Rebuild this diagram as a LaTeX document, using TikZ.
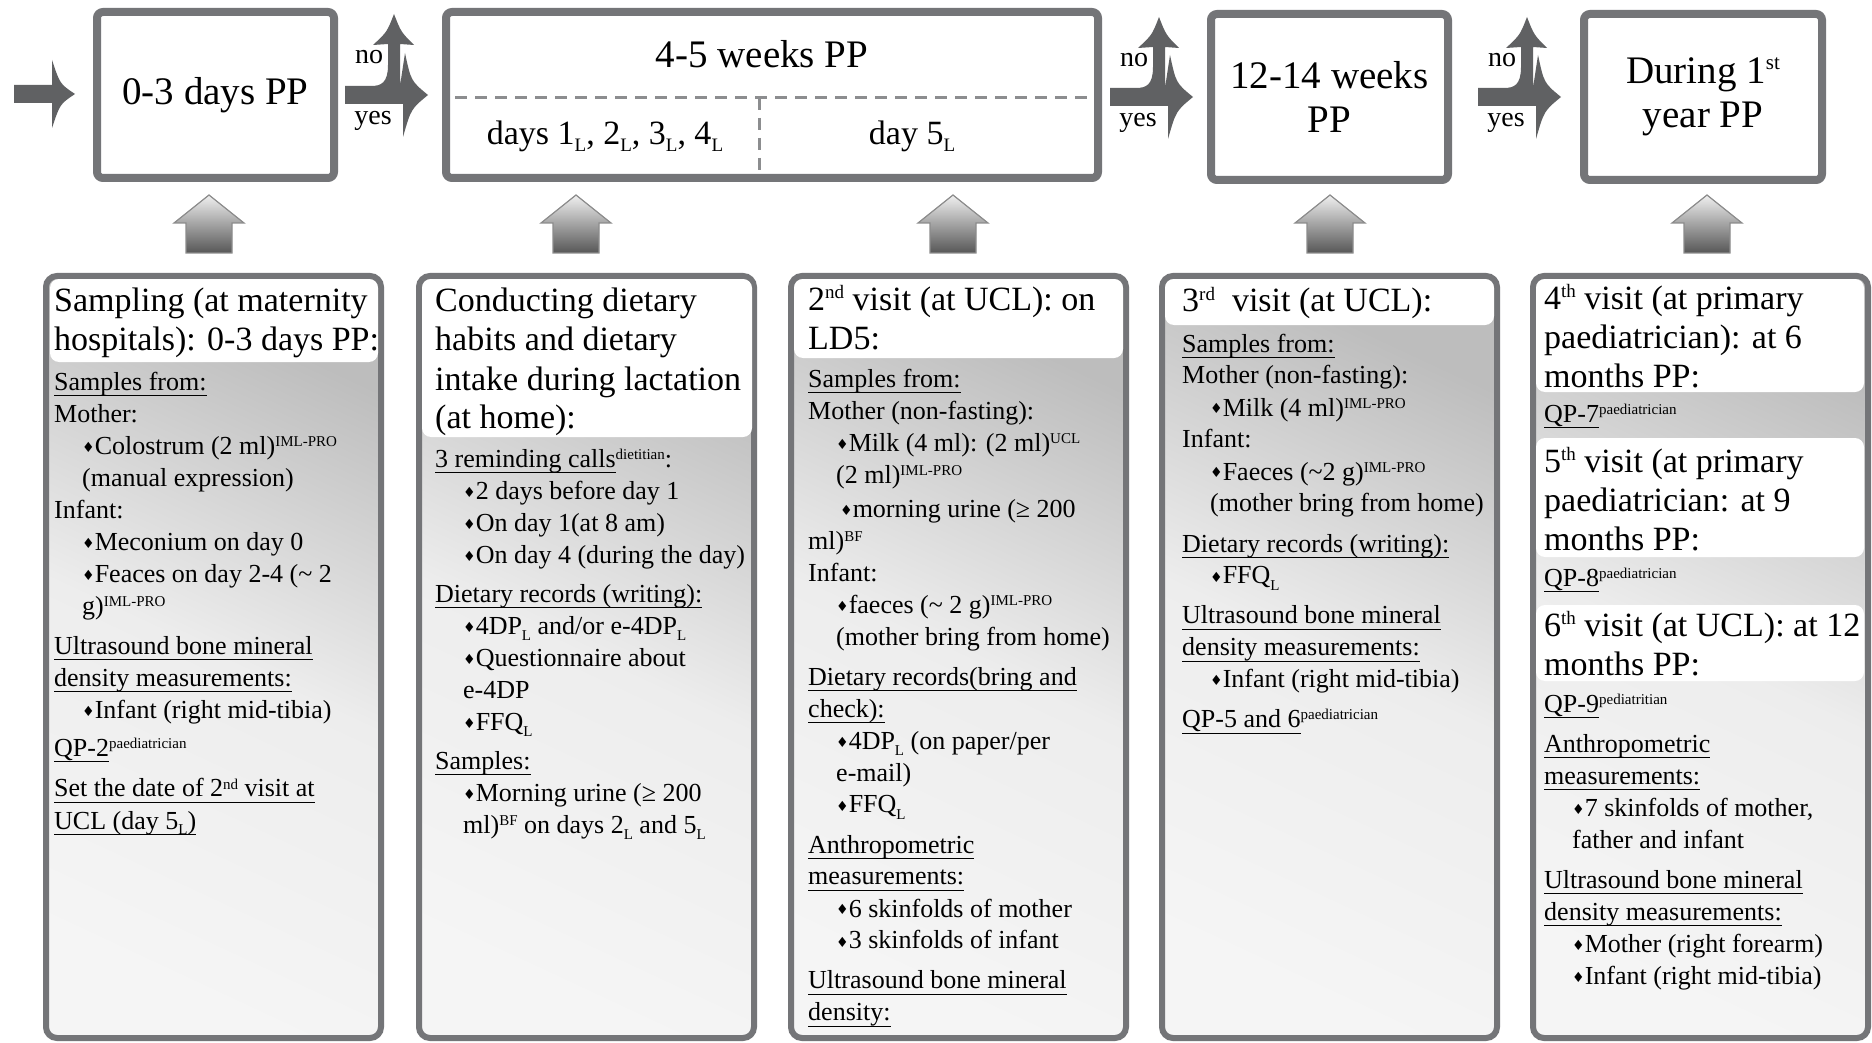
\documentclass[tikz,border=0pt]{standalone}
\usepackage{fontspec}
\setmainfont{Liberation Serif}
\newfontfamily\symf{DejaVu Sans}
\definecolor{bordergray}{RGB}{116,117,120}
\definecolor{arrowgray}{RGB}{96,97,99}
\definecolor{dashgray}{RGB}{140,141,143}
\newcommand\uln[1]{\leavevmode\setbox0\hbox{#1}\rlap{\rule[-6pt]{\wd0}{1.3pt}}\box0}
\newcommand\bul{\raisebox{2pt}{\symf\fontsize{14}{14}\selectfont ♦}}
\newcommand\sps[1]{\raisebox{8pt}{\fontsize{15}{15}\selectfont #1}}
\newcommand\hsps[1]{\raisebox{12pt}{\fontsize{19}{19}\selectfont #1}}
\newcommand\tsps[1]{\raisebox{14pt}{\fontsize{21}{21}\selectfont #1}}
\newcommand\sbL{\raisebox{-6pt}{\fontsize{15}{15}\selectfont L}}
\newcommand\tsbL{\raisebox{-7pt}{\fontsize{19}{19}\selectfont L}}
\newcommand\ind{\hspace*{28pt}}
\newcommand\bodytext[1]{\parbox[t]{360pt}{\raggedright\fontsize{26}{32}\selectfont #1}}
\newcommand\headtext[1]{\parbox[t]{360pt}{\raggedright\fontsize{34}{39}\selectfont #1}}
\newcommand\splitarrow[3]{%
 \fill[blk] (#1,{#2+9}) -- ({#1+58},{#2+9}) -- ({#1+58},{#2+42})
   .. controls ({#1+66},{#2+14}) .. ({#1+83},#2)
   .. controls ({#1+66},{#2-14}) .. ({#1+60},{#2-42})
   -- ({#1+55},{#2-9}) -- ({#1+55},{#3+30}) -- ({#1+69},{#3+31})
   .. controls ({#1+56},{#3+18}) .. ({#1+49},#3)
   .. controls ({#1+42},{#3+18}) .. ({#1+28},{#3+31})
   -- ({#1+43},{#3+30}) -- ({#1+43},{#2-30})
   .. controls ({#1+43},{#2-12}) and ({#1+36},{#2-9}) .. ({#1+26},{#2-9})
   -- (#1,{#2-9}) -- cycle;}
\newcommand\upblock[1]{%
 \path[upar] ({#1},195) -- ({#1+35},223) -- ({#1+23},223) -- ({#1+23},253)
   -- ({#1-23},253) -- ({#1-23},223) -- ({#1-35},223) -- cycle;}
\begin{document}
\begin{tikzpicture}[x=1pt,y=-1pt,
  topbox/.style={draw=bordergray, line width=8pt, fill=white, rounded corners=6pt, inner sep=0pt, align=center, font=\fontsize{39}{44}\selectfont},
  panel/.style={draw=bordergray, line width=6pt, rounded corners=11pt, top color=black!26, bottom color=black!4, middle color=black!7, shading angle=-25},
  hdr/.style={fill=white, rounded corners=9pt},
  blk/.style={fill=arrowgray},
  upar/.style={draw=black!45, line width=1.2pt, top color=black!6, bottom color=black!66},
  lbl/.style={font=\fontsize{28}{28}\selectfont, inner sep=0pt},
  txt/.style={anchor=base west, inner sep=0pt},
  dsh/.style={draw=dashgray, line width=3pt, dash pattern=on 12pt off 8pt}
]
\useasboundingbox (0,0) rectangle (1872,1043);
\fill[white] (0,0) rectangle (1872,1043);

% top row
\node[topbox, minimum width=237pt, minimum height=166pt] (b1) at (215.5,95) {0-3 days PP};
\node[topbox, minimum width=652pt, minimum height=166pt] (b2) at (772,95) {};
\node[inner sep=0pt, font=\fontsize{39}{44}\selectfont] (b2t) at (762,54) {4-5 weeks PP};
\node[inner sep=0pt, font=\fontsize{34}{40}\selectfont] (b2l) at (605,136) {days 1\tsbL, 2\tsbL, 3\tsbL, 4\tsbL};
\node[inner sep=0pt, font=\fontsize{34}{40}\selectfont] (b2r) at (912,136) {day 5\tsbL};
\draw[dsh] (455,98) -- (1090,98);
\draw[dsh] (759,98) -- (759,172);
\node[topbox, minimum width=237pt, minimum height=166pt] (b3) at (1329.5,97) {12-14 weeks\\PP};
\node[topbox, minimum width=238pt, minimum height=166pt] (b4) at (1703,97) {During 1\tsps{st}\\year PP};

% arrows
\fill[blk] (14,85) -- (52,85) -- (52,60) .. controls (60,84) .. (75,94) .. controls (60,104) .. (52,128) -- (52,103) -- (14,103) -- cycle;
\splitarrow{345}{95}{14}
\splitarrow{1110}{97}{17}
\splitarrow{1478}{97}{17}
\node[lbl] (no1) at (369,57) {no};
\node[lbl] (yes1) at (373,121) {yes};
\node[lbl] (no2) at (1134,60) {no};
\node[lbl] (yes2) at (1138,123) {yes};
\node[lbl] (no3) at (1502,60) {no};
\node[lbl] (yes3) at (1506,123) {yes};

\upblock{209}
\upblock{576}
\upblock{953}
\upblock{1330}
\upblock{1707}

% panels
\foreach \l in {43,416,788,1159,1530} {\path[panel] ({\l+3},276) rectangle ({\l+338},1038);}
\fill[hdr] (50,279) rectangle (378,362);
\fill[hdr] (422,279) rectangle (752,437);
\fill[hdr] (794,279) rectangle (1123,358);
\fill[hdr] (1165,279) rectangle (1494,325);
\fill[hdr] (1536,279) rectangle (1864,392);
\fill[hdr] (1536,438) rectangle (1864,557);
\fill[hdr] (1536,605) rectangle (1864,681);

% panel 1
\node[txt] (h1) at (54,312) {\headtext{Sampling (at maternity\\hospitals): 0-3 days PP:}};
\node[txt] (t1) at (54,390) {\bodytext{%
\uln{Samples from:}\\
Mother:\\
\ind\bul Colostrum (2 ml)\sps{IML-PRO}\\
\ind(manual expression)\\
Infant:\\
\ind\bul Meconium on day 0\\
\ind\bul Feaces on day 2-4 (\textasciitilde{} 2\\
\ind g)\sps{IML-PRO}\\[8pt]
\uln{Ultrasound bone mineral}\\
\uln{density measurements:}\\
\ind\bul Infant (right mid-tibia)\\[6pt]
\uln{QP-2}\sps{paediatrician}\\[9pt]
\uln{Set the date of 2\sps{nd} visit at}\\
\uln{UCL (day 5\sbL)}}};

% panel 2
\node[txt] (h2) at (435,312) {\headtext{Conducting dietary\\habits and dietary\\intake during lactation\\(at home):}};
\node[txt] (t2) at (435,467) {\bodytext{%
\uln{3 reminding calls}\sps{dietitian}:\\
\ind\bul 2 days before day 1\\
\ind\bul On day 1(at 8 am)\\
\ind\bul On day 4 (during the day)\\[7pt]
\uln{Dietary records (writing):}\\
\ind\bul 4DP\sbL{} and/or e-4DP\sbL\\
\ind\bul Questionnaire about\\
\ind e-4DP\\
\ind\bul FFQ\sbL\\[7pt]
\uln{Samples:}\\
\ind\bul Morning urine (≥ 200\\
\ind ml)\sps{BF} on days 2\sbL{} and 5\sbL}};

% panel 3
\node[txt] (h3) at (808,310) {\headtext{2\hsps{nd} visit (at UCL): on\\LD5:}};
\node[txt] (t3) at (808,387) {\bodytext{%
\uln{Samples from:}\\
Mother (non-fasting):\\
\ind\bul Milk (4 ml): (2 ml)\sps{UCL}\\
\ind(2 ml)\sps{IML-PRO}\\[2pt]
\ind\hspace*{4pt}\bul morning urine (≥ 200\\
ml)\sps{BF}\\
Infant:\\
\ind\bul faeces (\textasciitilde{} 2 g)\sps{IML-PRO}\\
\ind(mother bring from home)\\[8pt]
\uln{Dietary records(bring and}\\
\uln{check):}\\
\ind\bul 4DP\sbL{} (on paper/per\\
\ind e-mail)\\
\ind\bul FFQ\sbL\\[8pt]
\uln{Anthropometric}\\
\uln{measurements:}\\
\ind\bul 6 skinfolds of mother\\
\ind\bul 3 skinfolds of infant\\[8pt]
\uln{Ultrasound bone mineral}\\
\uln{density:}}};

% panel 4
\node[txt] (h4) at (1182,312) {\headtext{3\hsps{rd} \ visit (at UCL):}};
\node[txt] (t4) at (1182,352) {\bodytext{%
\uln{Samples from:}\\
Mother (non-fasting):\\
\ind\bul Milk (4 ml)\sps{IML-PRO}\\
Infant:\\
\ind\bul Faeces (\textasciitilde 2 g)\sps{IML-PRO}\\
\ind(mother bring from home)\\[8pt]
\uln{Dietary records (writing):}\\
\ind\bul FFQ\sbL\\[8pt]
\uln{Ultrasound bone mineral}\\
\uln{density measurements:}\\
\ind\bul Infant (right mid-tibia)\\[8pt]
\uln{QP-5 and 6}\sps{paediatrician}}};

% panel 5
\node[txt] (h5a) at (1544,309) {\headtext{4\hsps{th} visit (at primary\\paediatrician): at 6\\months PP:}};
\node[txt] (t5a) at (1544,422) {\bodytext{\uln{QP-7}\sps{paediatrician}}};
\node[txt] (h5b) at (1544,472) {\headtext{5\hsps{th} visit (at primary\\paediatrician: at 9\\months PP:}};
\node[txt] (t5b) at (1544,586) {\bodytext{\uln{QP-8}\sps{paediatrician}}};
\node[txt] (h5c) at (1544,636) {\headtext{6\hsps{th} visit (at UCL): at 12\\months PP:}};
\node[txt] (t5c) at (1544,712) {\bodytext{%
\uln{QP-9}\sps{pediatritian}\\[8pt]
\uln{Anthropometric}\\
\uln{measurements:}\\
\ind\bul 7 skinfolds of mother,\\
\ind father and infant\\[8pt]
\uln{Ultrasound bone mineral}\\
\uln{density measurements:}\\
\ind\bul Mother (right forearm)\\
\ind\bul Infant (right mid-tibia)}};
\end{tikzpicture}
\end{document}
